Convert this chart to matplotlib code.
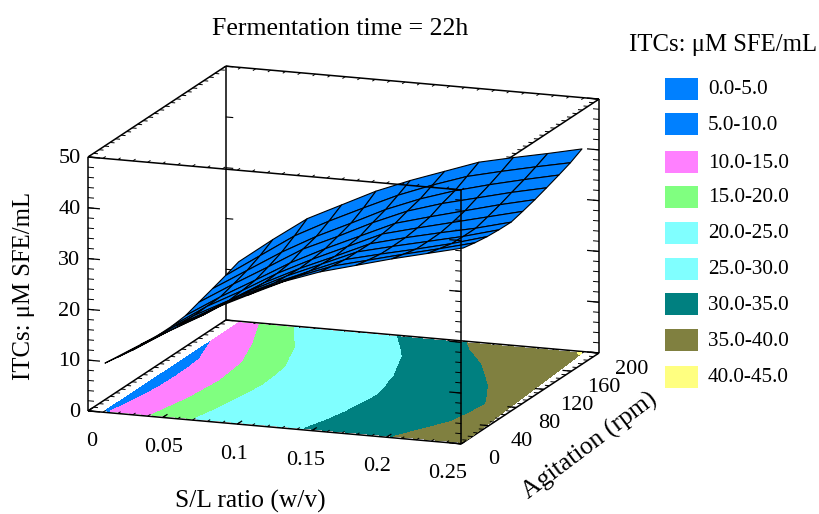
import numpy as np
import matplotlib
matplotlib.use("Agg")
import matplotlib.pyplot as plt
from matplotlib.patches import Rectangle

FONT = "Liberation Serif"
plt.rcParams["font.family"] = FONT

title = "Fermentation time = 22h"
x_label = "S/L ratio (w/v)"
y_label = "Agitation (rpm)"
z_label = "ITCs: \u03bcM SFE/mL"

x_ticks = [0, 0.05, 0.1, 0.15, 0.2, 0.25]
x_tick_labels = ["0", "0.05", "0.1", "0.15", "0.2", "0.25"]
y_ticks = [0, 40, 80, 120, 160, 200]
y_tick_labels = ["0", "40", "80", "120", "160", "200"]
z_ticks = [0, 10, 20, 30, 40, 50]
z_tick_labels = ["0", "10", "20", "30", "40", "50"]

# surface table
x_nodes = [0.01, 0.034, 0.058, 0.082, 0.106, 0.13, 0.154, 0.178, 0.202, 0.226, 0.25]
x_right_edge = [0.25, 0.249, 0.248, 0.247, 0.246, 0.245, 0.244, 0.243, 0.242, 0.241, 0.24]
y_nodes = [3, 22, 42, 61, 81, 100, 120, 139, 159, 178, 197]
z_row_0 = [9.4, 13.7, 18.1, 21.9, 25.3, 28.6, 31.1, 33.0, 34.9, 36.6, 38.3]
z_row_1 = [8.9, 13.2, 17.3, 21.4, 24.7, 27.8, 30.5, 32.3, 34.1, 35.8, 37.6]
z_row_2 = [8.4, 12.7, 16.6, 20.9, 24.1, 27.1, 30.0, 31.7, 33.3, 35.0, 37.0]
z_row_3 = [8.1, 12.5, 16.3, 20.4, 23.8, 26.8, 29.8, 31.5, 33.1, 34.7, 36.6]
z_row_4 = [8.0, 12.4, 16.0, 20.1, 23.5, 26.5, 29.6, 31.4, 33.0, 34.5, 36.3]
z_row_5 = [8.0, 12.5, 16.2, 20.2, 23.6, 26.7, 29.8, 31.6, 33.3, 35.0, 36.7]
z_row_6 = [8.3, 12.6, 16.5, 20.5, 23.9, 27.0, 30.1, 32.0, 33.8, 35.6, 37.2]
z_row_7 = [9.2, 13.4, 17.4, 21.5, 24.6, 27.9, 30.8, 32.9, 34.6, 36.3, 37.8]
z_row_8 = [10.1, 14.3, 18.5, 22.2, 25.4, 28.7, 31.4, 33.6, 35.4, 37.0, 38.5]
z_row_9 = [11.0, 15.5, 20.0, 23.5, 26.7, 29.8, 32.4, 34.7, 36.3, 37.8, 39.2]
z_row_10 = [12.0, 17.0, 21.7, 25.0, 28.3, 31.0, 33.4, 35.8, 37.3, 38.7, 40.2]

levels = [0, 5, 10, 15, 20, 25, 30, 35, 40, 45]
level_labels = ["0.0-5.0", "5.0-10.0", "10.0-15.0", "15.0-20.0", "20.0-25.0",
                "25.0-30.0", "30.0-35.0", "35.0-40.0", "40.0-45.0"]
level_colors = ["#0080FF", "#0080FF", "#FF80FF", "#80FF80", "#80FFFF",
                "#80FFFF", "#008080", "#808040", "#FFFF80"]

Z = np.array([z_row_0, z_row_1, z_row_2, z_row_3, z_row_4, z_row_5,
              z_row_6, z_row_7, z_row_8, z_row_9, z_row_10])
xn = np.array(x_nodes)
frac = (xn - xn[0]) / (xn[-1] - xn[0])
X = np.array([xn[0] + frac * (r - xn[0]) for r in x_right_edge])
Y = np.array([[v] * len(xn) for v in y_nodes], dtype=float)

W, H = 819, 514
fig = plt.figure(figsize=(W / 100, H / 100), dpi=100)
S = 604 / 1.1
cx, cy = 343.5, H - 255
ax = fig.add_axes([(cx - 0.5135 * S) / W, (cy - 0.5135 * S) / H, S / W, S / H],
                  projection="3d", computed_zorder=False, proj_type="ortho")
ax.view_init(elev=13.96, azim=-69.9)
ax.set_box_aspect((398, 401.5, 262), zoom=1.1)
ax.set_axis_off()
ax.patch.set_alpha(0)

XMAX, YMAX, ZMAX = 0.25, 200, 50
LW = 1.1


def seg(p, q, z, lw=LW):
    ax.plot([p[0], q[0]], [p[1], q[1]], [p[2], q[2]], color="black", lw=lw,
            zorder=z, solid_capstyle="butt", clip_on=False)


def ticks_along(axis_name, fixed, positions, ln, lw, z):
    for v in positions:
        if axis_name == "x":
            p = (v, fixed[0], fixed[1])
            q = (v, fixed[0] + ln, fixed[1])
        elif axis_name == "y":
            p = (fixed[0], v, fixed[1])
            q = (fixed[0] + ln, v, fixed[1])
        else:
            p = (fixed[0], fixed[1], v)
            q = (fixed[0] + ln, fixed[1], v)
        seg(p, q, z, lw)


x_minor = np.arange(0, 0.2501, 0.01)
y_minor = np.arange(0, 200.1, 8)
z_minor = np.arange(0, 50.1, 2)

# back edges
seg((0, YMAX, 0), (0, YMAX, ZMAX), 1)
seg((0, YMAX, ZMAX), (XMAX, YMAX, ZMAX), 1)
seg((0, YMAX, 0), (XMAX, YMAX, 0), 1)
seg((0, 0, ZMAX), (0, YMAX, ZMAX), 1)
seg((XMAX, 0, ZMAX), (XMAX, YMAX, ZMAX), 1)
seg((XMAX, YMAX, 0), (XMAX, YMAX, ZMAX), 1)
seg((0, 0, 0), (0, YMAX, 0), 1)
seg((XMAX, 0, 0), (XMAX, YMAX, 0), 1)

# ticks on the upper and back edges
ticks_along("x", (YMAX, ZMAX), x_minor, -4, 0.7, 1)
ticks_along("y", (0, ZMAX), y_minor, 0.003, 0.7, 1)
ticks_along("y", (XMAX, ZMAX), y_minor, -0.003, 0.7, 1)
ticks_along("z", (0, YMAX), z_ticks, 0.005, 0.8, 1)
ticks_along("z", (XMAX, YMAX), z_minor, -0.004, 0.7, 1)
ticks_along("z", (XMAX, YMAX), z_ticks, -0.008, 0.9, 1)
ticks_along("x", (YMAX, 0), x_minor, -4, 0.7, 1)

ax.contourf(X, Y, Z, levels=levels, colors=level_colors, zdir="z", offset=0, zorder=2)

ax.plot_surface(X, Y, Z, rstride=1, cstride=1, color="#0080FF", edgecolor="black",
                linewidth=0.8, shade=False, antialiased=True, zorder=3)

# front edges
seg((0, 0, 0), (XMAX, 0, 0), 4)
seg((0, 0, ZMAX), (XMAX, 0, ZMAX), 4)
seg((0, 0, 0), (0, 0, ZMAX), 4)
seg((XMAX, 0, 0), (XMAX, 0, ZMAX), 4)
ticks_along("x", (0, 0), x_minor, 4, 0.7, 4)
ticks_along("x", (0, 0), x_ticks, 7, 0.9, 4)
ticks_along("x", (0, ZMAX), x_minor, 4, 0.7, 4)
ticks_along("y", (0, 0), y_minor, 0.003, 0.7, 4)
ticks_along("y", (XMAX, 0), y_minor, -0.003, 0.7, 4)
ticks_along("y", (XMAX, 0), y_ticks, -0.006, 0.9, 4)
ticks_along("z", (0, 0), z_minor, 0.004, 0.7, 4)
ticks_along("z", (0, 0), z_ticks, 0.008, 0.9, 4)
ticks_along("z", (XMAX, 0), z_minor, -0.004, 0.7, 4)
ticks_along("z", (XMAX, 0), z_ticks, -0.008, 0.9, 4)

TICK_FS = 16
for v, s in zip(x_ticks, x_tick_labels):
    ax.text(v + 0.0027 - 0.0116 * v / 0.25, 0, -6.0, s, ha="center", va="center",
            fontsize=TICK_FS, zorder=5)
for v, s in zip(y_ticks, y_tick_labels):
    ax.text(XMAX + 0.022, v, -2.6, s, ha="center", va="center", fontsize=TICK_FS, zorder=5)
for v, s in zip(z_ticks, z_tick_labels):
    ax.text(-0.005, 0, v - 0.5, s, ha="right", va="center", fontsize=TICK_FS, zorder=5)

ax.set_xlim(0, XMAX)
ax.set_ylim(0, YMAX)
ax.set_zlim(0, ZMAX)
ax.set_xticks([])
ax.set_yticks([])
ax.set_zticks([])

# page-level overlay for titles and the key
ov = fig.add_axes([0, 0, 1, 1], facecolor="none")
ov.set_xlim(0, W)
ov.set_ylim(H, 0)
ov.set_xticks([])
ov.set_yticks([])
ov.axis("off")
ov.text(340, 29, title, ha="center", va="center", fontsize=18.6)
ov.text(250, 501, x_label, ha="center", va="center", fontsize=18.4)
ov.text(590, 446, y_label, ha="center", va="center", fontsize=18.5, rotation=37,
        rotation_mode="anchor")
ov.text(24, 286, z_label, ha="center", va="center", fontsize=17.8, rotation=90)
ov.text(723, 45, z_label, ha="center", va="center", fontsize=17.8)

row_centers = [89, 124, 162, 197, 233, 269, 304, 340, 377]
for yc, c, s in zip(row_centers, level_colors, level_labels):
    ov.add_patch(Rectangle((665, yc - 11), 33, 22, facecolor=c, edgecolor="none"))
    ov.text(708, yc + 1, s, ha="left", va="center", fontsize=15.2)

fig.savefig("out.png", dpi=100)
